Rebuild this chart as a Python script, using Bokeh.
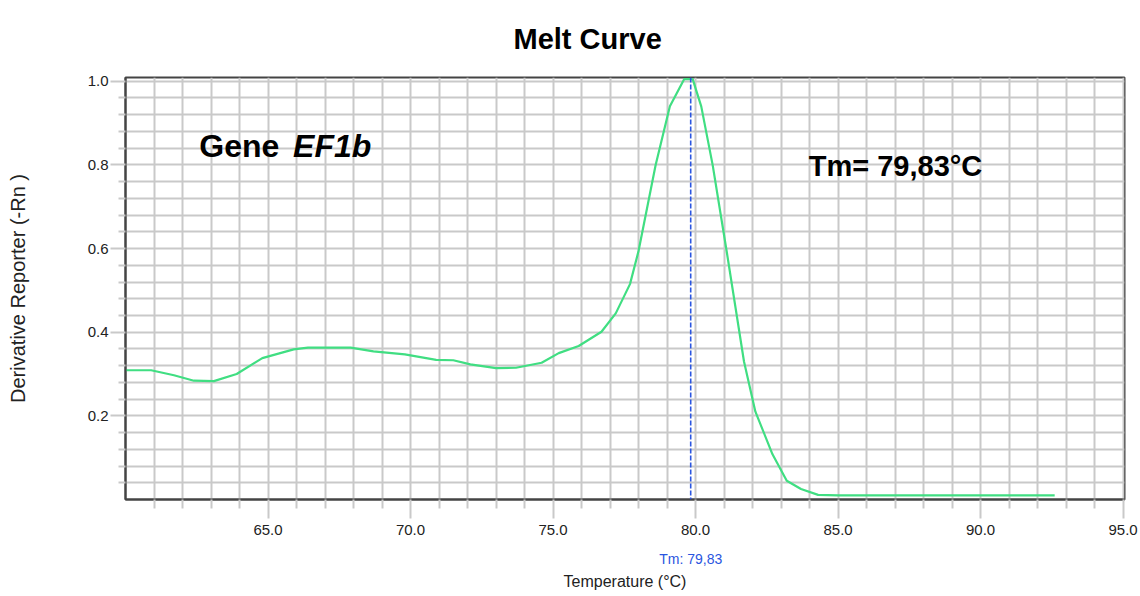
from bokeh.plotting import figure
from bokeh.models import Range1d, FixedTicker, LinearAxis, Label, Span, CustomJSTickFormatter, PrintfTickFormatter
from bokeh.embed import file_html
from bokeh.resources import INLINE

# ---- data ----
temperature = [60.0, 60.9, 61.7, 62.4, 63.1, 63.9, 64.8, 65.9, 66.4, 67.9, 68.7, 69.8,
               70.9, 71.5, 72.1, 73.0, 73.7, 74.6, 75.2, 75.9, 76.7, 77.2, 77.7, 78.0,
               78.6, 79.1, 79.6, 79.9, 80.2, 80.6, 81.1, 81.7, 82.1, 82.7, 83.2, 83.7,
               84.3, 85.0, 92.6]
derivative = [0.309, 0.309, 0.297, 0.284, 0.283, 0.300, 0.338, 0.359, 0.363, 0.363, 0.354, 0.347,
              0.334, 0.333, 0.323, 0.314, 0.315, 0.327, 0.350, 0.367, 0.401, 0.445, 0.515, 0.594,
              0.800, 0.940, 1.005, 1.005, 0.940, 0.800, 0.590, 0.330, 0.210, 0.108, 0.045, 0.025,
              0.011, 0.010, 0.010]
tm_value = 79.83
x_major = [65, 70, 75, 80, 85, 90, 95]
x_minor = [61, 62, 63, 64, 66, 67, 68, 69, 71, 72, 73, 74, 76, 77, 78, 79, 81, 82, 83, 84,
           86, 87, 88, 89, 91, 92, 93, 94]
y_major = [0.2, 0.4, 0.6, 0.8, 1.0]
y_minor = [0.04, 0.08, 0.12, 0.16, 0.24, 0.28, 0.32, 0.36, 0.44, 0.48, 0.52, 0.56,
           0.64, 0.68, 0.72, 0.76, 0.84, 0.88, 0.92, 0.96]

FONT = "Liberation Sans"
GRID = "#c9c9c9"
FRAME = "#444444"

p = figure(width=1140, height=596, output_backend="svg", toolbar_location=None,
           x_range=Range1d(60.0, 95.05), y_range=Range1d(0, 1.009),
           min_border_left=125, min_border_right=16, min_border_top=77, min_border_bottom=97)

p.background_fill_color = "white"
p.border_fill_color = "white"
p.outline_line_color = FRAME
p.outline_line_width = 2

# title
p.title.text = "Melt Curve"
p.title.text_font = FONT
p.title.text_font_size = "29px"
p.title.text_font_style = "bold"
p.title.text_color = "black"
p.title.align = "left"
p.title.offset = 388
p.title.vertical_align = "top"
p.title.standoff = 42

# x axis
xa = p.xaxis[0]
xa.ticker = FixedTicker(ticks=x_major, minor_ticks=x_minor)
xa.formatter = PrintfTickFormatter(format="%.1f")
xa.major_label_text_font = FONT
xa.major_label_text_font_size = "15px"
xa.major_label_text_color = "#222222"
xa.major_label_standoff = 6
xa.major_tick_out = 19
xa.major_tick_in = 0
xa.minor_tick_out = 9
xa.minor_tick_in = 0
xa.major_tick_line_color = GRID
xa.minor_tick_line_color = GRID
xa.major_tick_line_width = 2
xa.minor_tick_line_width = 2
xa.axis_line_color = FRAME
xa.axis_line_width = 2

# second x axis carrying the Tm marker label and the axis title
tm_axis = LinearAxis(ticker=FixedTicker(ticks=[tm_value]),
                     formatter=CustomJSTickFormatter(code="return 'Tm: ' + tick.toFixed(2).replace('.', ',')"))
tm_axis.axis_line_color = None
tm_axis.major_tick_line_color = None
tm_axis.minor_tick_line_color = None
tm_axis.major_tick_out = 0
tm_axis.minor_tick_out = 0
tm_axis.major_label_text_font = FONT
tm_axis.major_label_text_font_size = "14px"
tm_axis.major_label_text_color = "#2a55e0"
tm_axis.major_label_standoff = 13
tm_axis.axis_label = "Temperature (°C)"
tm_axis.axis_label_text_font = FONT
tm_axis.axis_label_text_font_size = "16px"
tm_axis.axis_label_text_font_style = "normal"
tm_axis.axis_label_text_color = "#222222"
tm_axis.axis_label_standoff = 3
p.add_layout(tm_axis, "below")

# y axis
ya = p.yaxis[0]
ya.ticker = FixedTicker(ticks=y_major, minor_ticks=y_minor)
ya.formatter = PrintfTickFormatter(format="%.1f")
ya.major_label_text_font = FONT
ya.major_label_text_font_size = "15px"
ya.major_label_text_color = "#222222"
ya.major_label_standoff = 2
ya.major_tick_out = 15
ya.major_tick_in = 0
ya.minor_tick_out = 7
ya.minor_tick_in = 0
ya.major_tick_line_color = GRID
ya.minor_tick_line_color = GRID
ya.major_tick_line_width = 2
ya.minor_tick_line_width = 2
ya.axis_line_color = FRAME
ya.axis_line_width = 2
ya.axis_label = "Derivative Reporter (-Rn )"
ya.axis_label_text_font = FONT
ya.axis_label_text_font_size = "20px"
ya.axis_label_text_font_style = "normal"
ya.axis_label_text_color = "#222222"
ya.axis_label_standoff = 56

# grids every 1 °C and every 0.04
p.xgrid.ticker = FixedTicker(ticks=x_major + x_minor)
p.ygrid.ticker = FixedTicker(ticks=y_major + y_minor)
for g in (p.xgrid[0], p.ygrid[0]):
    g.grid_line_color = GRID
    g.grid_line_width = 2
    g.grid_line_alpha = 1.0

# Tm dashed marker
p.add_layout(Span(location=tm_value, dimension="height", line_color="#2a55e0",
                  line_width=1.6, line_dash="5 2"))

# melt curve
p.line(temperature, derivative, line_color="#40de82", line_width=2.2)

# annotations
p.add_layout(Label(x=62.59, y=0.845, text="Gene", text_font=FONT, text_font_size="32px",
                   text_font_style="bold", text_color="black", text_baseline="alphabetic"))
p.add_layout(Label(x=65.88, y=0.845, text="EF1b", text_font=FONT, text_font_size="32px",
                   text_font_style="bold italic", text_color="black", text_baseline="alphabetic"))
p.add_layout(Label(x=83.97, y=0.798, text="Tm= 79,83°C", text_font=FONT, text_font_size="29px",
                   text_font_style="bold", text_color="black", text_baseline="alphabetic"))

open("out.html", "w").write(file_html(p, INLINE))
